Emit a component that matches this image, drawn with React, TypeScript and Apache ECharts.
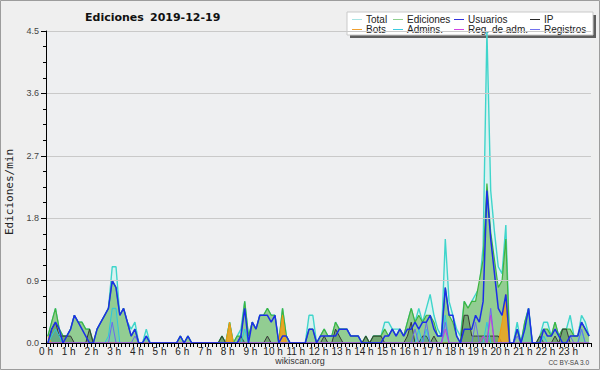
import React, { useEffect, useRef } from "react";
import * as echarts from "echarts";

// 10-minute slots, values in edits per minute
const SLOTS = 144;
const HOUR_LABELS = [
  "0 h", "1 h", "2 h", "3 h", "4 h", "5 h", "6 h", "7 h", "8 h", "9 h", "10 h", "11 h",
  "12 h", "13 h", "14 h", "15 h", "16 h", "17 h", "18 h", "19 h", "20 h", "21 h", "22 h", "23 h",
];
const Y_MAX = 4.5;
const Y_STEP = 0.9;
const TITLE_NAME = "Ediciones";
const TITLE_DATE = "2019-12-19";
const Y_NAME = "Ediciones/min";
const FOOTER = "wikiscan.org";
const LICENSE = "CC BY-SA 3.0";

const TOTAL = [
  0.1, 0.3, 0.5, 0.2, 0.1, 0.1,
  0.2, 0.4, 0.3, 0.3, 0.2, 0.2,
  0, 0.2, 0.3, 0.4, 0.5, 1.1,
  1.1, 0.4, 0.5, 0.3, 0.2, 0.3,
  0, 0, 0.2, 0, 0, 0,
  0, 0, 0, 0, 0, 0.1,
  0, 0.1, 0, 0, 0, 0,
  0, 0, 0, 0, 0.1, 0,
  0.3, 0, 0.1, 0.2, 0.6, 0.1,
  0.3, 0.2, 0.4, 0.4, 0.5, 0.4,
  0.4, 0, 0.5, 0.1, 0, 0,
  0, 0, 0, 0.4, 0.4, 0,
  0.1, 0.2, 0.1, 0.1, 0.3, 0.2,
  0.2, 0.2, 0.1, 0.1, 0.1, 0,
  0.1, 0, 0.1, 0.1, 0.1, 0.3,
  0.3, 0.2, 0.2, 0.2, 0.1, 0.3,
  0.5, 0.3, 0.5, 0.3, 0.5, 0.7,
  0.4, 0.2, 0.1, 1.5, 0.6, 0.4,
  0.2, 0.1, 0.6, 0.5, 0.6, 0.7,
  0.8, 1.4, 4.5, 2.2, 1.6, 1.1,
  1.0, 1.7, 0, 0, 0.3, 0,
  0.3, 0.5, 0, 0, 0.1, 0.3,
  0.3, 0.1, 0.3, 0.1, 0.2, 0.2,
  0.4, 0.1, 0.1, 0.4, 0.3, 0.1,
];

const EDICIONES = [
  0.1, 0.3, 0.5, 0.2, 0.1, 0.1,
  0.2, 0.4, 0.3, 0.3, 0.2, 0.2,
  0, 0.2, 0.3, 0.4, 0.5, 0.9,
  0.8, 0.4, 0.5, 0.3, 0.1, 0.2,
  0, 0, 0.1, 0, 0, 0,
  0, 0, 0, 0, 0, 0.1,
  0, 0.1, 0, 0, 0, 0,
  0, 0, 0, 0, 0.1, 0,
  0.3, 0, 0.1, 0.1, 0.6, 0.1,
  0.3, 0.2, 0.4, 0.4, 0.5, 0.4,
  0.4, 0, 0.5, 0.1, 0, 0,
  0, 0, 0, 0.2, 0.2, 0,
  0.1, 0.2, 0.1, 0.1, 0.3, 0.2,
  0.2, 0.2, 0.1, 0.1, 0.1, 0,
  0.1, 0, 0.1, 0.1, 0.1, 0.2,
  0.1, 0.2, 0.1, 0.2, 0.1, 0.3,
  0.5, 0.3, 0.4, 0.3, 0.4, 0.4,
  0.3, 0.1, 0.1, 0.8, 0.4, 0.3,
  0.1, 0, 0.6, 0.5, 0.6, 0.6,
  0.9, 1.2, 2.3, 1.6, 1.2, 0.8,
  0.9, 1.5, 0, 0, 0.2, 0,
  0.3, 0.5, 0, 0, 0.1, 0.2,
  0.2, 0.1, 0.3, 0.1, 0.2, 0.2,
  0.2, 0.1, 0.1, 0.3, 0.2, 0.1,
];

const USUARIOS = [
  0, 0.2, 0.3, 0.2, 0, 0.1,
  0.2, 0.4, 0.3, 0.2, 0.1, 0,
  0, 0.2, 0.3, 0.4, 0.5, 0.9,
  0.8, 0.4, 0.5, 0.3, 0.1, 0.2,
  0, 0, 0.1, 0, 0, 0,
  0, 0, 0, 0, 0, 0.1,
  0, 0.1, 0, 0, 0, 0,
  0, 0, 0, 0, 0, 0,
  0, 0, 0, 0.1, 0.5, 0,
  0.3, 0.2, 0.4, 0.4, 0.4, 0.3,
  0.4, 0, 0.1, 0.1, 0, 0,
  0, 0, 0, 0.2, 0.2, 0,
  0.1, 0.1, 0.1, 0.1, 0.1, 0.2,
  0.2, 0.2, 0.1, 0.1, 0.1, 0,
  0, 0, 0, 0, 0, 0.1,
  0.1, 0.2, 0.1, 0.2, 0.1, 0.2,
  0.2, 0.3, 0.2, 0.3, 0.3, 0.4,
  0.2, 0.1, 0.1, 0.8, 0.4, 0.4,
  0.1, 0, 0.2, 0.2, 0.2, 0.4,
  0.3, 0.6, 2.2, 1.5, 1.0, 0.5,
  0.4, 0.7, 0, 0, 0.2, 0,
  0.2, 0.5, 0, 0, 0, 0.2,
  0.1, 0.1, 0.2, 0.1, 0, 0,
  0.1, 0.1, 0.1, 0.3, 0.2, 0.1,
];

const IP = [
  0, 0.2, 0.3, 0.1, 0.1, 0.1,
  0.1, 0, 0, 0, 0, 0.2,
  0, 0, 0, 0, 0, 0,
  0, 0, 0, 0, 0, 0,
  0, 0, 0, 0, 0, 0,
  0, 0, 0, 0, 0, 0,
  0, 0, 0, 0, 0, 0,
  0, 0, 0, 0, 0.1, 0,
  0, 0, 0, 0.1, 0, 0,
  0, 0, 0, 0, 0.1, 0,
  0, 0, 0, 0, 0, 0,
  0, 0, 0, 0, 0, 0,
  0, 0.1, 0, 0, 0.2, 0.1,
  0, 0, 0, 0, 0, 0,
  0.1, 0, 0.1, 0.1, 0.1, 0,
  0, 0, 0, 0, 0, 0.1,
  0.3, 0, 0, 0.1, 0.1, 0,
  0.1, 0, 0, 0, 0, 0,
  0, 0, 0.4, 0.4, 0.1, 0.1,
  0.1, 0.1, 0.1, 0.1, 0.1, 0.1,
  0, 0, 0, 0, 0, 0,
  0, 0, 0, 0, 0.1, 0,
  0, 0, 0.1, 0, 0.2, 0.2,
  0, 0, 0, 0, 0, 0,
];

// sparse series: [slot index, value]
const BOTS_POINTS = [[0, 0.1], [48, 0.3], [62, 0.4], [120, 0.3], [121, 0.7]];
const ADMINS_POINTS = [
  [1, 0.1], [2, 0.2], [3, 0.1], [16, 0.1], [17, 0.5], [18, 0.5], [26, 0.1], [52, 0.2],
  [98, 0.2], [100, 0.2], [105, 0.4], [116, 0.3], [126, 0.2], [127, 0.5], [131, 0.1], [141, 0.2],
];
const REGADM_POINTS = [[105, 0.2], [115, 0.1], [117, 0.4]];
const REGISTROS_POINTS = [
  [17, 0.3], [23, 0.1], [26, 0.1], [97, 0.2], [100, 0.3], [105, 0.3], [113, 0.3],
  [117, 0.5], [124, 0.1], [138, 0.1], [141, 0.2],
];

const expand = (pts: number[][]) => {
  const a = new Array(SLOTS).fill(0);
  pts.forEach(([i, v]) => (a[i] = v));
  return a;
};

const FONT = "Liberation Sans";

const LEGEND = [
  { name: "Total", color: "#a8e4e4" },
  { name: "Ediciones", color: "#8fd08f" },
  { name: "Usuarios", color: "#3434dc" },
  { name: "IP", color: "#2a2a2a" },
  { name: "Bots", color: "#f0a030" },
  { name: "Admins.", color: "#3ccbe0" },
  { name: "Reg. de adm.", color: "#cf44e4" },
  { name: "Registros", color: "#7272ee" },
];

export default function App() {
  const ref = useRef<HTMLDivElement>(null);

  useEffect(() => {
    if (!ref.current) return;
    const chart = echarts.init(ref.current, undefined, { renderer: "svg" });

    const toData = (vals: number[]) => vals.map((v, i) => [i + 0.5, v]);
    const line = (
      name: string,
      vals: number[],
      color: string,
      width: number,
      area: string | null,
      z: number
    ) => ({
      type: "line",
      name,
      data: toData(vals),
      symbol: "none",
      silent: true,
      z,
      lineStyle: { color, width },
      itemStyle: { color },
      areaStyle: area ? { color: area, opacity: 1 } : undefined,
    });

    const colX = [352, 393, 454, 530];
    const rowY = [19, 29];
    const legendEls: any[] = [
      { type: "rect", shape: { x: 350, y: 15, width: 246, height: 23 }, style: { fill: "#5e5e5e" }, silent: true },
      { type: "rect", shape: { x: 347, y: 12, width: 246, height: 23 }, style: { fill: "#ffffff", stroke: "#c9c9c9", lineWidth: 1 }, silent: true },
    ];
    LEGEND.forEach((it, k) => {
      const x = colX[k % 4];
      const y = rowY[Math.floor(k / 4)];
      legendEls.push({
        type: "line",
        shape: { x1: x, y1: y + 0.5, x2: x + 10, y2: y + 0.5 },
        style: { stroke: it.color, lineWidth: 1 },
        silent: true,
      });
      legendEls.push({
        type: "text",
        x: x + 14,
        y: y,
        style: { text: it.name, fontSize: 10, fontFamily: FONT, fill: "#222", align: "left", verticalAlign: "middle" },
        silent: true,
      });
    });

    chart.setOption({
      animation: false,
      backgroundColor: "#efefef",
      grid: {
        left: 46,
        right: 9,
        top: 31,
        bottom: 27,
        show: true,
        backgroundColor: "#eeeff1",
        borderWidth: 0,
      },
      xAxis: {
        type: "value",
        min: 0,
        max: SLOTS,
        interval: 6,
        z: 10,
        axisLine: { show: true, onZero: false, lineStyle: { color: "#000", width: 1 } },
        axisTick: { show: true, length: 4, lineStyle: { color: "#000" } },
        minorTick: { show: true, splitNumber: 6, length: 4, lineStyle: { color: "#000" } },
        splitLine: { show: false },
        axisLabel: {
          margin: 3,
          fontSize: 10,
          fontFamily: FONT,
          color: "#222",
          showMaxLabel: false,
          formatter: (v: number) => HOUR_LABELS[Math.round(v / 6)] ?? "",
        },
      },
      yAxis: {
        type: "value",
        min: 0,
        max: Y_MAX,
        interval: Y_STEP,
        z: 10,
        axisLine: { show: true, lineStyle: { color: "#000", width: 1 } },
        axisTick: { show: true, length: 5, lineStyle: { color: "#000" } },
        minorTick: { show: true, splitNumber: 4, length: 3, lineStyle: { color: "#000" } },
        splitLine: { show: true, lineStyle: { color: "#c9c9c9", width: 1 } },
        axisLabel: {
          margin: 7,
          fontSize: 9,
          fontFamily: FONT,
          color: "#444",
          formatter: (v: number) => v.toFixed(1),
        },
      },
      series: [
        line("Total", TOTAL, "#3fd5cb", 1.4, "#d9f2f1", 2),
        line("Ediciones", EDICIONES, "#3fb43f", 1.2, "#92cd92", 3),
        line("IP", IP, "#383838", 1, "rgba(30,70,30,0.28)", 4),
        line("Bots", expand(BOTS_POINTS), "#f39a10", 1, "rgba(245,160,20,0.8)", 5),
        line("Admins.", expand(ADMINS_POINTS), "#2cc6e0", 1, "rgba(44,198,224,0.18)", 6),
        line("Registros", expand(REGISTROS_POINTS), "#6a6af0", 1, null, 7),
        line("Reg. de adm.", expand(REGADM_POINTS), "#c33ee0", 1, null, 8),
        line("Usuarios", USUARIOS, "#1c2ee8", 1.5, null, 9),
      ],
      graphic: [
        {
          type: "rect",
          shape: { x: 0.5, y: 0.5, width: 599, height: 369 },
          style: { fill: "none", stroke: "#9c9c9c", lineWidth: 1 },
          silent: true,
        },
        {
          type: "text",
          x: 85,
          y: 17,
          style: { text: TITLE_NAME, fontSize: 11, fontWeight: "bold", fontFamily: "DejaVu Sans", fill: "#111", align: "left", verticalAlign: "middle" },
          silent: true,
        },
        {
          type: "text",
          x: 150,
          y: 17,
          style: { text: TITLE_DATE, fontSize: 11, fontWeight: "bold", fontFamily: "DejaVu Sans", fill: "#111", align: "left", verticalAlign: "middle" },
          silent: true,
        },
        {
          type: "text",
          x: 9,
          y: 192,
          rotation: Math.PI / 2,
          style: { text: Y_NAME, fontSize: 11, fontFamily: "DejaVu Sans Mono", fill: "#222", align: "center", verticalAlign: "middle" },
          silent: true,
        },
        ...legendEls,
        {
          type: "text",
          x: 300,
          y: 361,
          style: { text: FOOTER, fontSize: 9, fontFamily: FONT, fill: "#333", align: "center", verticalAlign: "middle" },
          silent: true,
        },
        {
          type: "text",
          x: 589,
          y: 362,
          style: { text: LICENSE, fontSize: 6.5, fontFamily: FONT, fill: "#444", align: "right", verticalAlign: "middle" },
          silent: true,
        },
      ],
    });

    return () => chart.dispose();
  }, []);

  return (
    <div
      ref={ref}
      style={{ position: "fixed", left: 0, top: 0, width: 600, height: 370 }}
    />
  );
}
